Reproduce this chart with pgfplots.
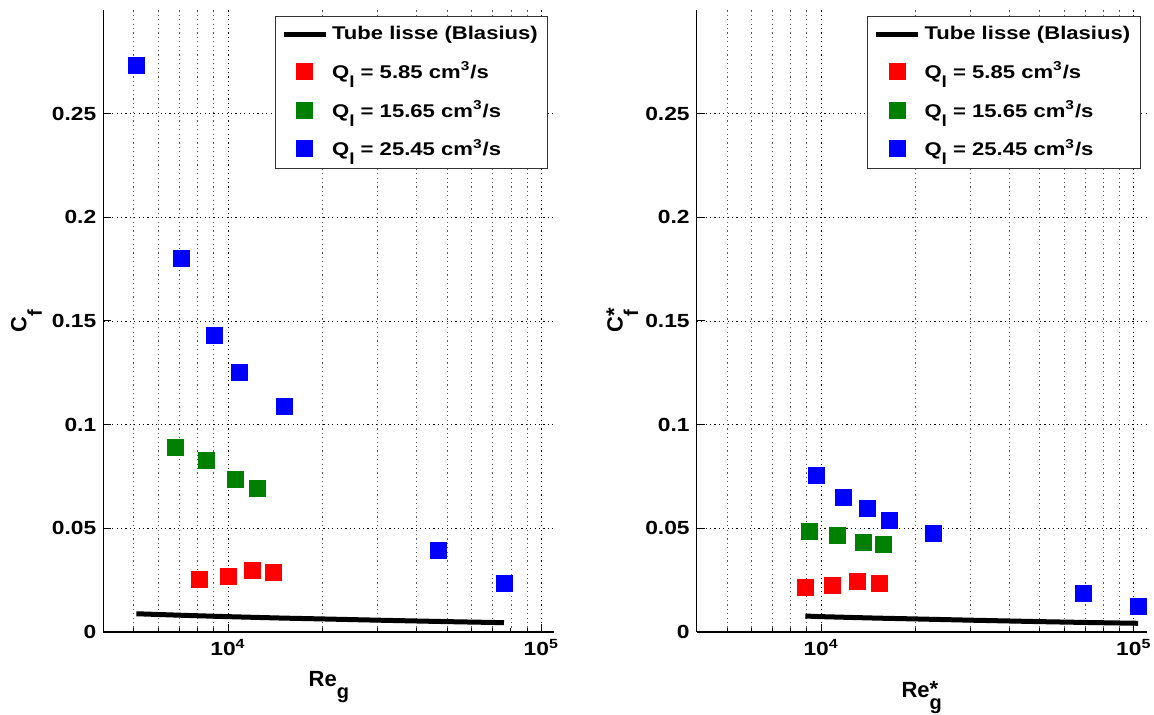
\documentclass[border=0pt]{standalone}
\usepackage{fontspec}
\setmainfont{Liberation Sans}
\newfontfamily\widefont{Liberation Sans}[FakeStretch=1.2]
\usepackage{pgfplots}
\pgfplotsset{compat=1.18}
\definecolor{mgreen}{rgb}{0,0.5,0}
% Matlab-like subscripts: top of the subscript just below the baseline
\newcommand\msub[1]{\raisebox{\dimexpr-\height-0.5pt\relax}{\fontsize{10}{10}\selectfont #1}}
\newcommand\lsub{\raisebox{\dimexpr-\height+1.3pt\relax}{\fontsize{8}{8}\selectfont l}}

\pgfplotstableread{
x y
8120 0.0254
10040 0.0269
11950 0.0296
14000 0.0288
}\Lred
\pgfplotstableread{
x y
6800 0.089
8530 0.083
10550 0.0738
12400 0.0694
}\Lgreen
\pgfplotstableread{
x y
5100 0.2734
7100 0.180
9050 0.143
10860 0.125
15100 0.109
47100 0.0395
76000 0.0235
}\Lblue
\pgfplotstableread{
x y
5100 0.0088
7000 0.0081
10000 0.0074
15000 0.0067
20000 0.0063
30000 0.0057
50000 0.0050
76000 0.0045
}\Lbla

\pgfplotstableread{
x y
8910 0.0216
10890 0.0225
13100 0.0244
15370 0.0235
}\Rred
\pgfplotstableread{
x y
9175 0.0485
11250 0.0466
13680 0.0434
15850 0.0424
}\Rgreen
\pgfplotstableread{
x y
9640 0.0757
11810 0.0648
14060 0.0595
16540 0.0537
22800 0.0476
69200 0.0187
103300 0.0125
}\Rblue
\pgfplotstableread{
x y
8900 0.0077
10000 0.0074
15000 0.0067
20000 0.0063
30000 0.0057
50000 0.0050
70000 0.0046
103300 0.0042
}\Rbla

\begin{document}
\begin{tikzpicture}
\begin{axis}[at={(0pt,0pt)}, anchor=south west,
    xmode=log, scale only axis, width=225.5pt, height=311pt,
    xmin=4000, xmax=110000, ymin=0, ymax=0.3,
    axis x line*=bottom, axis y line*=left,
    axis line style={-, black, line width=0.6pt},
    xtick={10000,100000},
    xticklabels={10\textsuperscript{4},10\textsuperscript{5}},
    minor xtick={4000,5000,6000,7000,8000,9000,20000,30000,40000,50000,60000,70000,80000,90000},
    ytick={0,0.05,0.1,0.15,0.2,0.25},
    yticklabels={0,0.05,0.1,0.15,0.2,0.25},
    xmajorgrids, xminorgrids, ymajorgrids,
    major grid style={black, line width=0.4pt, dash pattern=on 0.6pt off 1.6pt},
    minor grid style={black!65, line width=0.4pt, dash pattern=on 0.6pt off 1.6pt},
    tick align=inside, major tick length=4pt, minor tick length=2pt,
    tick style={black, line width=0.5pt},
    ticklabel style={font=\widefont\bfseries\fontsize{9.5}{11}\selectfont},
    label style={font=\bfseries\fontsize{11}{13}\selectfont},
    xlabel style={at={([yshift=-27.5pt]axis description cs:0.5,0)}, anchor=base},
    ylabel style={at={([xshift=-38.5pt]axis description cs:0,0.5)}, anchor=base, rotate=0},
    legend style={at={(axis description cs:1,1)}, anchor=north east,
      xshift=-3pt, yshift=-3pt, draw=black!80, line width=0.5pt, fill=white,
      font=\widefont\bfseries\fontsize{9.2}{10.5}\selectfont,
      inner xsep=3pt, inner ysep=3pt, row sep=5.5pt},
    legend cell align=left,
    ylabel={C\msub{f}},
    xlabel={Re\msub{g}}]
\addplot[black, line width=2.5pt, no marks,
  legend image code/.code={\draw[black, line width=2.5pt] (0pt,0pt) -- (21pt,0pt);}] table[x=x,y=y] {\Lbla};
\addlegendentry{Tube lisse (Blasius)}
\addplot[only marks, mark=square*, mark size=4pt, color=red, mark options={draw=none, fill=red},
  legend image code/.code={\path (0pt,0pt) (21pt,0pt); \fill[red] (6.5pt,-4pt) rectangle (14.5pt,4pt);}] table[x=x,y=y] {\Lred};
\addlegendentry{Q\lsub{} = 5.85 cm\textsuperscript{3}/s}
\addplot[only marks, mark=square*, mark size=4pt, color=mgreen, mark options={draw=none, fill=mgreen},
  legend image code/.code={\path (0pt,0pt) (21pt,0pt); \fill[mgreen] (6.5pt,-4pt) rectangle (14.5pt,4pt);}] table[x=x,y=y] {\Lgreen};
\addlegendentry{Q\lsub{} = 15.65 cm\textsuperscript{3}/s}
\addplot[only marks, mark=square*, mark size=4pt, color=blue, mark options={draw=none, fill=blue},
  legend image code/.code={\path (0pt,0pt) (21pt,0pt); \fill[blue] (6.5pt,-4pt) rectangle (14.5pt,4pt);}] table[x=x,y=y] {\Lblue};
\addlegendentry{Q\lsub{} = 25.45 cm\textsuperscript{3}/s}
\end{axis}
\begin{axis}[at={(296.7pt,0pt)}, anchor=south west,
    xmode=log, scale only axis, width=225pt, height=311pt,
    xmin=4000, xmax=110000, ymin=0, ymax=0.3,
    axis x line*=bottom, axis y line*=left,
    axis line style={-, black, line width=0.6pt},
    xtick={10000,100000},
    xticklabels={10\textsuperscript{4},10\textsuperscript{5}},
    minor xtick={4000,5000,6000,7000,8000,9000,20000,30000,40000,50000,60000,70000,80000,90000},
    ytick={0,0.05,0.1,0.15,0.2,0.25},
    yticklabels={0,0.05,0.1,0.15,0.2,0.25},
    xmajorgrids, xminorgrids, ymajorgrids,
    major grid style={black, line width=0.4pt, dash pattern=on 0.6pt off 1.6pt},
    minor grid style={black!65, line width=0.4pt, dash pattern=on 0.6pt off 1.6pt},
    tick align=inside, major tick length=4pt, minor tick length=2pt,
    tick style={black, line width=0.5pt},
    ticklabel style={font=\widefont\bfseries\fontsize{9.5}{11}\selectfont},
    label style={font=\bfseries\fontsize{11}{13}\selectfont},
    xlabel style={at={([yshift=-33pt]axis description cs:0.5,0)}, anchor=base},
    ylabel style={at={([xshift=-37pt]axis description cs:0,0.5)}, anchor=base, rotate=0},
    legend style={at={(axis description cs:1,1)}, anchor=north east,
      xshift=-3pt, yshift=-3pt, draw=black!80, line width=0.5pt, fill=white,
      font=\widefont\bfseries\fontsize{9.2}{10.5}\selectfont,
      inner xsep=3pt, inner ysep=3pt, row sep=5.5pt},
    legend cell align=left,
    ylabel={C\rlap{\raisebox{0.5pt}{*}}\msub{f}},
    xlabel={Re\rlap{\raisebox{0.5pt}{*}}\msub{g}}]
\addplot[black, line width=2.5pt, no marks,
  legend image code/.code={\draw[black, line width=2.5pt] (0pt,0pt) -- (21pt,0pt);}] table[x=x,y=y] {\Rbla};
\addlegendentry{Tube lisse (Blasius)}
\addplot[only marks, mark=square*, mark size=4pt, color=red, mark options={draw=none, fill=red},
  legend image code/.code={\path (0pt,0pt) (21pt,0pt); \fill[red] (6.5pt,-4pt) rectangle (14.5pt,4pt);}] table[x=x,y=y] {\Rred};
\addlegendentry{Q\lsub{} = 5.85 cm\textsuperscript{3}/s}
\addplot[only marks, mark=square*, mark size=4pt, color=mgreen, mark options={draw=none, fill=mgreen},
  legend image code/.code={\path (0pt,0pt) (21pt,0pt); \fill[mgreen] (6.5pt,-4pt) rectangle (14.5pt,4pt);}] table[x=x,y=y] {\Rgreen};
\addlegendentry{Q\lsub{} = 15.65 cm\textsuperscript{3}/s}
\addplot[only marks, mark=square*, mark size=4pt, color=blue, mark options={draw=none, fill=blue},
  legend image code/.code={\path (0pt,0pt) (21pt,0pt); \fill[blue] (6.5pt,-4pt) rectangle (14.5pt,4pt);}] table[x=x,y=y] {\Rblue};
\addlegendentry{Q\lsub{} = 25.45 cm\textsuperscript{3}/s}
\end{axis}
\pgfresetboundingbox
\path[use as bounding box] (-51.65pt,-41.5pt) rectangle (525.35pt,316pt);
\end{tikzpicture}
\end{document}
